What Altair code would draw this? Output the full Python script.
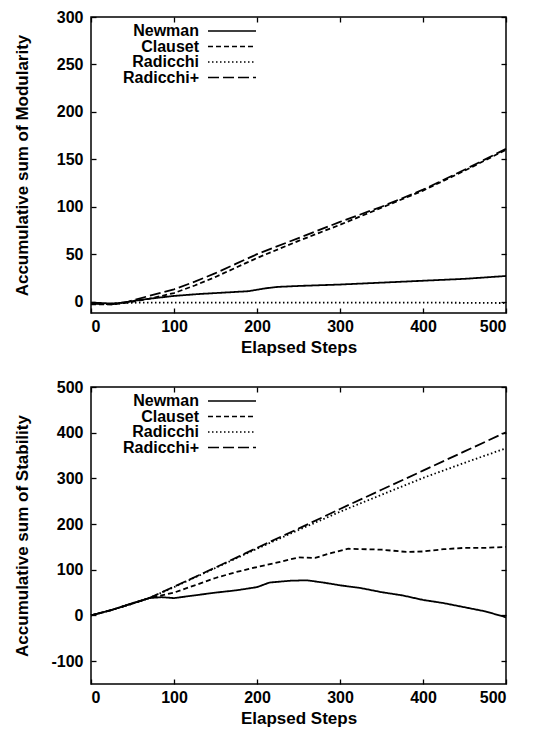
import altair as alt
import pandas as pd

SERIES = ["Newman", "Clauset", "Radicchi", "Radicchi+"]
DASHES = [[1, 0], [5, 3], [1.5, 2.5], [11, 4]]
X_TICKS = [0, 100, 200, 300, 400, 500]

# ---- Modularity panel ----
mod_newman_x = [0, 25, 40, 60, 80, 100, 130, 160, 190, 210, 225, 250, 300, 350, 400, 450, 500]
mod_newman_y = [-1, -2, -1, 2, 4, 6, 8, 9.5, 11, 14, 15.5, 16.5, 18, 20, 22, 24, 27]
mod_clauset_x = [0, 25, 45, 70, 100, 125, 150, 175, 200, 250, 300, 350, 400, 450, 500]
mod_clauset_y = [-3, -3, -1, 3, 9, 17, 26, 36, 46, 64, 81, 99, 117, 138, 160]
mod_radicchi_x = [0, 20, 40, 60, 100, 200, 300, 400, 500]
mod_radicchi_y = [-2, -2.5, -1.5, -1, -1, -1, -1, -1, -1.5]
mod_radplus_x = [0, 25, 45, 70, 100, 125, 150, 175, 200, 250, 300, 350, 400, 450, 500]
mod_radplus_y = [-2, -3, 0, 6, 13, 21, 30, 40, 50, 67, 84, 100, 118, 139, 161]

# ---- Stability panel ----
stab_newman_x = [0, 25, 50, 70, 85, 100, 125, 150, 175, 200, 215, 240, 260, 280, 300, 325, 350, 375, 400, 425, 450, 475, 500]
stab_newman_y = [0, 12, 27, 38, 40, 38, 44, 50, 55, 62, 72, 76, 77, 72, 66, 60, 51, 44, 34, 27, 18, 9, -4]
stab_clauset_x = [0, 25, 50, 70, 85, 100, 125, 150, 175, 200, 225, 250, 270, 290, 310, 350, 380, 400, 425, 450, 475, 500]
stab_clauset_y = [0, 12, 26, 38, 44, 50, 66, 82, 95, 106, 116, 127, 126, 137, 146, 144, 139, 140, 145, 148, 148, 150]
stab_radicchi_x = [0, 25, 50, 70, 100, 150, 200, 250, 300, 350, 400, 450, 500]
stab_radicchi_y = [0, 12, 26, 38, 62, 104, 146, 187, 227, 264, 301, 334, 366]
stab_radplus_x = [0, 25, 50, 70, 100, 150, 200, 250, 300, 350, 400, 450, 500]
stab_radplus_y = [0, 12, 26, 38, 63, 105, 148, 190, 233, 275, 317, 359, 401]

FONT = "Liberation Sans"


def build_df(pairs):
    rows = []
    for name, xs, ys in pairs:
        for i, (x, y) in enumerate(zip(xs, ys)):
            rows.append({"series": name, "x": x, "y": y, "o": i})
    return pd.DataFrame(rows)


mod_df = build_df([
    ("Newman", mod_newman_x, mod_newman_y),
    ("Clauset", mod_clauset_x, mod_clauset_y),
    ("Radicchi", mod_radicchi_x, mod_radicchi_y),
    ("Radicchi+", mod_radplus_x, mod_radplus_y),
])
stab_df = build_df([
    ("Newman", stab_newman_x, stab_newman_y),
    ("Clauset", stab_clauset_x, stab_clauset_y),
    ("Radicchi", stab_radicchi_x, stab_radicchi_y),
    ("Radicchi+", stab_radplus_x, stab_radplus_y),
])

TICK = 5


def panel(df, ydomain, yticks, ytitle, height):
    xscale = alt.Scale(domain=[0, 500], nice=False, zero=False)
    yscale = alt.Scale(domain=ydomain, nice=False, zero=False)
    common = dict(tickSize=TICK, tickColor="black", tickWidth=1.3, domain=False, grid=False)
    xaxis = alt.Axis(values=X_TICKS, orient="bottom", offset=-TICK, labelPadding=5,
                     labelFont=FONT, labelFontSize=16, labelFontWeight="bold", labelColor="black",
                     title="Elapsed Steps", titleFont=FONT, titleFontSize=17, titleFontWeight="bold",
                     titleColor="black", titlePadding=5, **common)
    yaxis = alt.Axis(values=yticks, orient="left", offset=-TICK, labelPadding=8,
                     labelExpr="toString(datum.value)",
                     labelFont=FONT, labelFontSize=16, labelFontWeight="bold", labelColor="black",
                     title=ytitle, titleFont=FONT, titleFontSize=17, titleFontWeight="bold",
                     titleColor="black", titleX=-74, titleBaseline="middle", **common)
    xaxis_m = alt.Axis(values=X_TICKS, orient="top", offset=-TICK, labels=False, title=None, **common)
    yaxis_m = alt.Axis(values=yticks, orient="right", offset=-TICK, labels=False, title=None, **common)

    lines = alt.Chart(df).mark_line(color="black", strokeWidth=1.8).encode(
        x=alt.X("x:Q", scale=xscale, axis=xaxis),
        y=alt.Y("y:Q", scale=yscale, axis=yaxis),
        strokeDash=alt.StrokeDash("series:N", scale=alt.Scale(domain=SERIES, range=DASHES), legend=None),
        detail="series:N",
        order="o:Q",
    )
    mirror = alt.Chart(df).mark_line(strokeOpacity=0).encode(
        x=alt.X("x:Q", scale=xscale, axis=xaxis_m),
        y=alt.Y("y:Q", scale=yscale, axis=yaxis_m),
        detail="series:N",
    )
    layers = [lines, mirror]
    for i, name in enumerate(SERIES):
        yy = 14 + 15.5 * i
        layers.append(
            alt.Chart(pd.DataFrame({"name": [name]})).mark_text(
                align="right", baseline="middle", font=FONT, fontSize=16, fontWeight="bold", color="black"
            ).encode(x=alt.value(108), y=alt.value(yy), text="name:N")
        )
        layers.append(
            alt.Chart(pd.DataFrame({"name": [name]})).mark_rule(
                color="black", strokeWidth=1.7, strokeDash=DASHES[i]
            ).encode(x=alt.value(117), x2=alt.value(165), y=alt.value(yy))
        )
    return alt.layer(*layers).resolve_axis(x="independent", y="independent").properties(
        width=415, height=height
    )


top = panel(mod_df, [-12, 300], [0, 50, 100, 150, 200, 250, 300], "Accumulative sum of Modularity", 296)
bottom = panel(stab_df, [-150, 500], [-100, 0, 100, 200, 300, 400, 500], "Accumulative sum of Stability", 297)

chart = alt.vconcat(top, bottom, spacing=22).properties(
    padding={"left": 4, "top": 0, "right": 0, "bottom": 0}
).configure_view(stroke="black", strokeWidth=1.5)

chart.save("out.html", embed_options={"renderer": "svg", "actions": False})
